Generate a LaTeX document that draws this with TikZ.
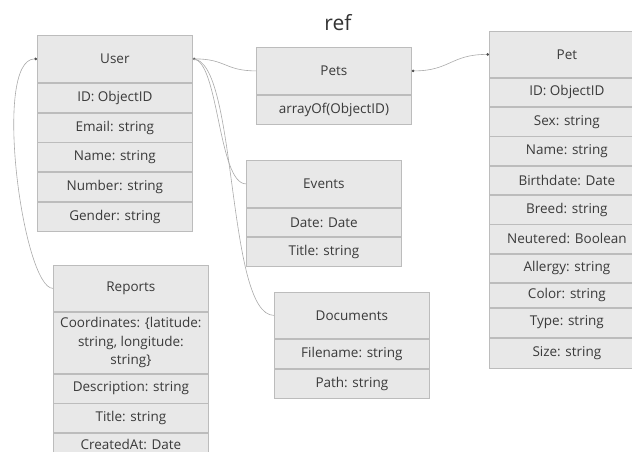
\documentclass[tikz,border=0pt]{standalone}
\usepackage{fontspec}
\setmainfont{Open Sans}
\usetikzlibrary{arrows.meta, positioning}
\definecolor{boxfill}{RGB}{232,232,232}
\definecolor{boxline}{RGB}{188,188,188}
\definecolor{inktext}{RGB}{58,58,58}
\definecolor{wire}{RGB}{170,170,170}

\tikzset{
  head/.style={draw=boxline, line width=0.8pt, fill=boxfill, text=inktext,
    minimum width=155pt, minimum height=47pt, inner sep=0pt,
    font=\fontsize{13.5}{18.5}\selectfont},
  field/.style={head, minimum height=29pt},
  link/.style={wire, line width=0.6pt},
  dot/.tip={Circle[length=2.6pt, color=black!70]}
}

\begin{document}
\begin{tikzpicture}[x=1pt, y=-1pt]
    \useasboundingbox (0,0) rectangle (632,452);
    \clip (0,0) rectangle (632,452);

    \node[font=\fontsize{21}{24}\selectfont, text=black!80] (title) at (338,23) {ref};

    % User
    \node[head, anchor=north west] (user) at (37,35) {User};
    \node[field, below=0pt of user] (userId) {ID: ObjectID};
    \node[field, below=0pt of userId] (userEmail) {Email: string};
    \node[field, below=0pt of userEmail] (userName) {Name: string};
    \node[field, below=0pt of userName] (userNumber) {Number: string};
    \node[field, below=0pt of userNumber] (userGender) {Gender: string};

    % Pets
    \node[head, anchor=north west] (pets) at (256,47) {Pets};
    \node[field, below=0pt of pets] (petsList) {arrayOf(ObjectID)};

    % Pet
    \node[head, anchor=north west, minimum height=46pt] (pet) at (489,31) {Pet};
    \node[field, minimum height=28.5pt, below=0pt of pet] (petId) {ID: ObjectID};
    \node[field, minimum height=28.5pt, below=0pt of petId] (petSex) {Sex: string};
    \node[field, minimum height=28.5pt, below=0pt of petSex] (petName) {Name: string};
    \node[field, minimum height=28.5pt, below=0pt of petName] (petBirth) {Birthdate: Date};
    \node[field, minimum height=28.5pt, below=0pt of petBirth] (petBreed) {Breed: string};
    \node[field, minimum height=28.5pt, below=0pt of petBreed] (petNeutered) {Neutered: Boolean};
    \node[field, minimum height=28.5pt, below=0pt of petNeutered] (petAllergy) {Allergy: string};
    \node[field, minimum height=24pt, below=0pt of petAllergy] (petColor) {Color: string};
    \node[field, minimum height=29pt, below=0pt of petColor] (petType) {Type: string};
    \node[field, minimum height=30pt, below=0pt of petType] (petSize) {Size: string};

    % Events
    \node[head, anchor=north west] (events) at (246,160) {Events};
    \node[field, minimum height=28.5pt, below=0pt of events] (eventsDate) {Date: Date};
    \node[field, minimum height=28.5pt, below=0pt of eventsDate] (eventsTitle) {Title: string};

    % Documents
    \node[head, anchor=north west, minimum height=46pt] (docs) at (274,292) {Documents};
    \node[field, below=0pt of docs] (docsFile) {Filename: string};
    \node[field, below=0pt of docsFile] (docsPath) {Path: string};

    % Reports
    \node[head, anchor=north west, minimum height=46pt] (reports) at (53,265) {Reports};
    \node[field, minimum height=61pt, align=center, below=0pt of reports] (reportsCoord)
        {Coordinates: \{latitude:\\ string, longitude:\\ string\}};
    \node[field, below=0pt of reportsCoord] (reportsDesc) {Description: string};
    \node[field, below=0pt of reportsDesc] (reportsTitle) {Title: string};
    \node[field, minimum height=22pt, below=0pt of reportsTitle] (reportsCreated) {CreatedAt: Date};

    % links
    \draw[link, dot-] (user.east) .. controls +(33,0) and +(-31,0) .. (pets.west);
    \draw[link] (user.east) .. controls +(26,0) and +(-28,0) .. (events.west);
    \draw[link] (user.east) .. controls +(45,0) and +(-48,0) .. (docs.west);
    \draw[link, dot-] (user.west) .. controls +(-45,0) and +(-30,0) .. (reports.west);
    \draw[link, dot-dot] (pets.east) .. controls +(38,0) and +(-38,0) .. (pet.west);
\end{tikzpicture}
\end{document}
